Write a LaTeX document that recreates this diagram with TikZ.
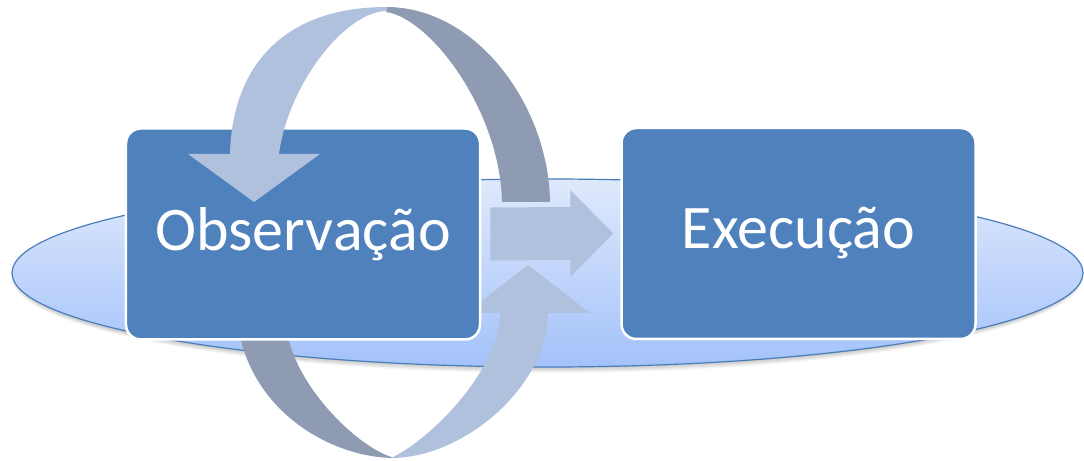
\documentclass[tikz,border=0pt]{standalone}
\usepackage{fontspec}
\setmainfont{Carlito}
\usetikzlibrary{calc}

\definecolor{boxblue}{RGB}{79,129,189}
\definecolor{bandlight}{RGB}{176,193,221}
\definecolor{banddark}{RGB}{142,155,178}
\definecolor{discTop}{RGB}{223,233,252}
\definecolor{discBottom}{RGB}{163,194,250}
\definecolor{discEdge}{RGB}{74,126,187}

\begin{document}
\begin{tikzpicture}[x=1bp, y=-1bp,
  stagebox/.style={fill=boxblue, draw=white, line width=2.5bp,
    rounded corners=15bp, minimum width=354bp, minimum height=211bp,
    inner sep=0pt, text=white, font=\fontsize{62bp}{70bp}\selectfont},
  frontband/.style={fill=bandlight},
  backband/.style={fill=banddark}]

\useasboundingbox (0,0) rectangle (1084,461);
\fill[white] (0,0) rectangle (1084,461);

% soft shadow under the disc
\foreach \k in {0,...,5}
  \fill[black, opacity=0.035] (547,277) ellipse [x radius=531+\k, y radius=91+\k];

% the flat disc
\shade[top color=discTop, bottom color=discBottom, draw=discEdge, line width=1.2bp]
  (547.5,273) ellipse [x radius=535.5, y radius=94];

% back halves of the loop
\fill[backband]
  (386,7) .. controls (478,7) and (549,108) .. (550,202)
  -- (502,202)
  .. controls (500,110) and (430,18) .. (386,12) -- cycle;
\fill[backband]
  (238,325) .. controls (250,410) and (330,458) .. (395,458)
  .. controls (360,450) and (292,385) .. (286,325) -- cycle;

% lower front half with its head, partly under the first box
\fill[frontband]
  (391,458) .. controls (465,458) and (548,385) .. (548,313)
  -- (590,313) -- (528,265) -- (466,313) -- (500,313)
  .. controls (500,370) and (430,440) .. (391,458) -- cycle;

% the two stages
\node[stagebox] (obs) at (303,234) {Observação};
\node[stagebox] (exe) at (798.5,233.5) {Execução};

% upper front half with its head, over the first box
\fill[frontband]
  (254,202) -- (320,154) -- (279,154)
  .. controls (288,85) and (345,11) .. (387,11)
  -- (387,7)
  .. controls (280,7) and (232,70) .. (230,154)
  -- (188,154) -- cycle;

% straight arrow from the first stage to the second
\fill[frontband]
  ($(obs.east)+(9,-26.5)$) -- ($(exe.west)+(-50,-26.5)$) -- ($(exe.west)+(-50,-43.5)$)
  -- ($(exe.west)+(-7,0)$)
  -- ($(exe.west)+(-50,43.5)$) -- ($(exe.west)+(-50,26.5)$) -- ($(obs.east)+(9,26.5)$)
  -- cycle;
\end{tikzpicture}
\end{document}
